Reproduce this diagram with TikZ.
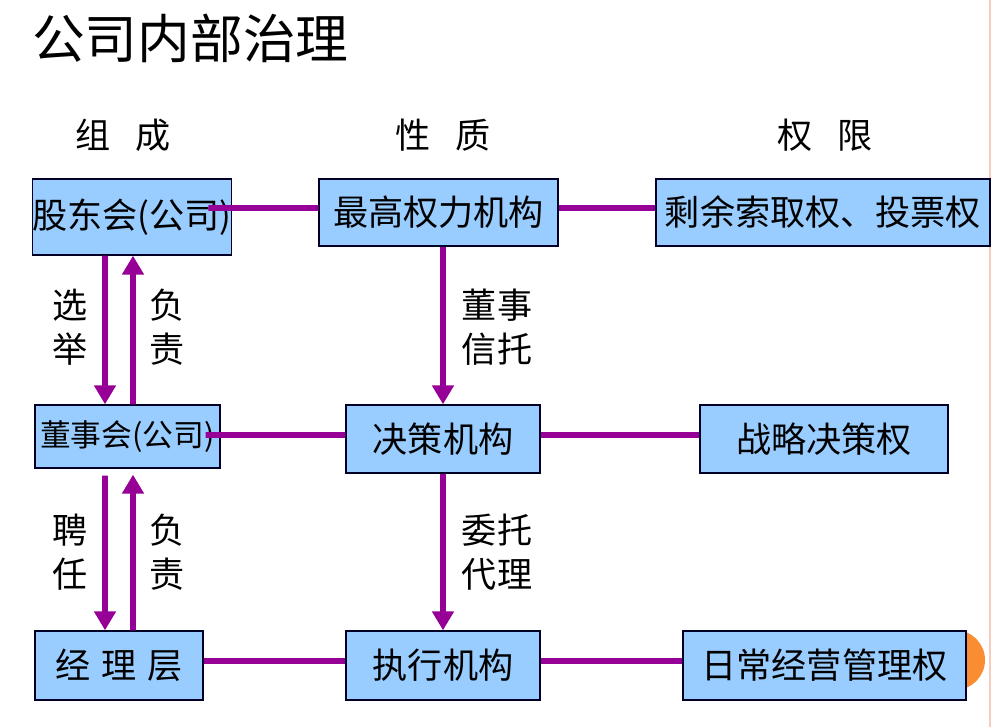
\documentclass[tikz,border=0pt]{standalone}
\usepackage{fontspec}
\setmainfont{Noto Sans CJK SC}
\usetikzlibrary{arrows.meta, positioning}
\definecolor{boxblue}{RGB}{153,204,255}
\definecolor{linkpurple}{RGB}{150,0,150}
\definecolor{dotorange}{RGB}{250,140,50}
\definecolor{edgepink}{RGB}{249,203,190}

\begin{document}
\begin{tikzpicture}[x=0.02cm, y=-0.02cm]

\tikzset{box/.style = {draw=black!85!blue, line width=0.8pt, fill=boxblue, inner sep=0pt, font=\fontsize{20}{24}\selectfont}}
\tikzset{link/.style = {draw=linkpurple, line width=3.4pt}}
\tikzset{flow/.style = {link, -{Triangle[length=0.38cm,width=0.42cm]}}}
\tikzset{tag/.style = {align=center, font=\fontsize{20}{25}\selectfont}}
\tikzset{head/.style = {font=\fontsize{20}{24}\selectfont}}
\useasboundingbox (0,0) rectangle (995,727);
\draw[edgepink, line width=1.5pt] (990,0) -- (990,727);
\fill[dotorange] (955,660) circle (30);
% title and column heads
\node[anchor=west, font=\fontsize{30}{36}\selectfont] (title) at (26,38) {公司内部治理};
\node[head] (h1) at (123,135) {组\hspace{0.7em}成};
\node[head] (h2) at (443,135) {性\hspace{0.7em}质};
\node[head] (h3) at (825,135) {权\hspace{0.7em}限};
% boxes
\node[box, minimum width=3.88cm, minimum height=1.52cm] (gd) at (132,217) {股东会(公司)};
\node[box, minimum width=4.78cm, minimum height=1.34cm] (zg) at (438.5,212.5) {最高权力机构};
\node[box, minimum width=6.68cm, minimum height=1.34cm] (sy) at (823,212.5) {剩余索取权、投票权};
\node[box, minimum width=3.7cm, minimum height=1.26cm, font=\fontsize{17.5}{21}\selectfont] (ds) at (127.5,436.5) {董事会(公司)};
\node[box, minimum width=3.88cm, minimum height=1.36cm] (jc) at (443,439) {决策机构};
\node[box, minimum width=4.96cm, minimum height=1.36cm] (zl) at (824,439) {战略决策权};
\node[box, minimum width=3.36cm, minimum height=1.38cm] (jl) at (119,665.5) {经\hspace{0.3em}理\hspace{0.3em}层};
\node[box, minimum width=3.88cm, minimum height=1.38cm] (zx) at (443,665.5) {执行机构};
\node[box, minimum width=5.66cm, minimum height=1.38cm] (rc) at (824.5,665.5) {日常经营管理权};
% labels
\node[tag] (xj) at (70,327) {选\\举};
\node[tag] (fz1) at (167,327) {负\\责};
\node[tag] (pr) at (70,552) {聘\\任};
\node[tag] (fz2) at (167,552) {负\\责};
\node[tag] (dx) at (497,327) {董事\\信托};
\node[tag] (wd) at (497,552) {委托\\代理};
% links
\draw[link] ([xshift=-0.48cm,yshift=0.18cm]gd.east) -- ([yshift=0.09cm]zg.west);
\draw[link] ([yshift=0.09cm]zg.east) -- ([yshift=0.09cm]sy.west);
\draw[link] ([xshift=-0.3cm,yshift=0.03cm]ds.east) -- ([yshift=0.08cm]jc.west);
\draw[link] ([yshift=0.08cm]jc.east) -- ([yshift=0.08cm]zl.west);
\draw[link] ([yshift=0.09cm]jl.east) -- ([yshift=0.09cm]zx.west);
\draw[link] ([yshift=0.09cm]zx.east) -- ([yshift=0.09cm]rc.west);
% arrows
\draw[flow] ([xshift=-0.54cm]gd.south) -- ([xshift=-0.45cm]ds.north);
\draw[flow] ([xshift=0.11cm]ds.north) -- ([xshift=0.02cm]gd.south);
\draw[flow, shorten <=0.14cm] ([xshift=-0.45cm]ds.south) -- ([xshift=-0.28cm]jl.north);
\draw[flow, shorten >=0.12cm] ([xshift=0.28cm]jl.north) -- ([xshift=0.11cm]ds.south);
\draw[flow] (zg.south -| jc.north) -- (jc.north);
\draw[flow] (jc.south) -- (zx.north);
\end{tikzpicture}
\end{document}
